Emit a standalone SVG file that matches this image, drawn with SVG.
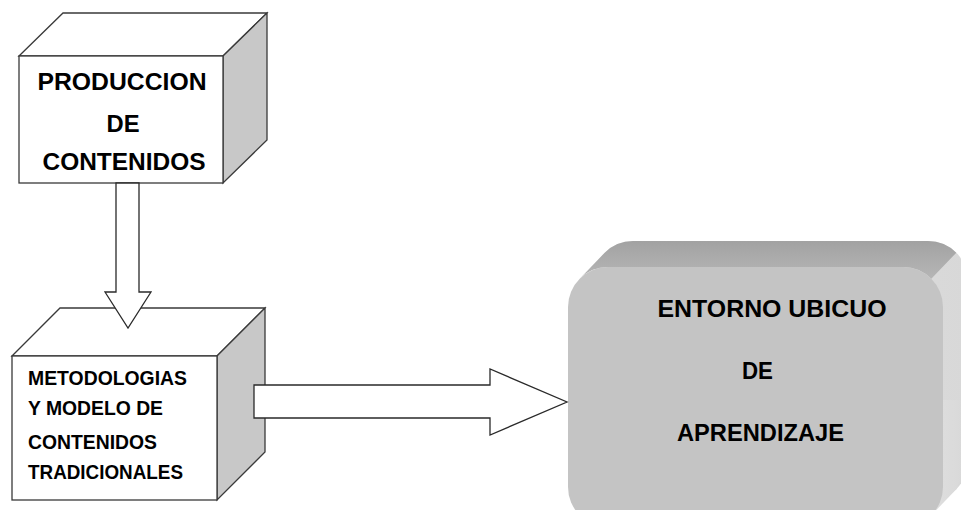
<svg xmlns="http://www.w3.org/2000/svg" width="961" height="510" viewBox="0 0 961 510">
<defs>
<linearGradient id="topBand" x1="0" y1="0" x2="0" y2="1">
<stop offset="0" stop-color="#a2a2a2"/>
<stop offset="1" stop-color="#b6b6b6"/>
</linearGradient>
<linearGradient id="sideFace" x1="0" y1="0" x2="1" y2="0">
<stop offset="0" stop-color="#e4e4e4"/>
<stop offset="1" stop-color="#d8d8d8"/>
</linearGradient>
<style>
.edge{stroke:#3a3a3a;stroke-width:1.3;stroke-linejoin:miter}
.front{fill:#fff}
.top{fill:#fff}
.side{fill:#c8c8c8}
.arrow{fill:#fff;stroke:#2a2a2a;stroke-width:1.3;stroke-linejoin:miter}
.big{font-family:"Liberation Sans",Arial,sans-serif;font-weight:bold;font-size:24.5px;fill:#000}
.small{font-family:"Liberation Sans",Arial,sans-serif;font-weight:bold;font-size:21px;fill:#000}
</style>
</defs>
<rect width="961" height="510" fill="#fff"/>

<g id="node-produccion">
<polygon class="top edge" points="19,56 63,13 267,13 223,56"/>
<polygon class="side edge" points="223,56 267,13 267,140 223,183"/>
<rect class="front edge" x="19" y="56" width="204" height="127"/>
<text class="big" x="122" y="90" text-anchor="middle" textLength="169" lengthAdjust="spacingAndGlyphs">PRODUCCION</text>
<text class="big" x="123" y="132" text-anchor="middle" textLength="33" lengthAdjust="spacingAndGlyphs">DE</text>
<text class="big" x="124" y="170" text-anchor="middle" textLength="163" lengthAdjust="spacingAndGlyphs">CONTENIDOS</text>
</g>

<g id="node-metodologias">
<polygon class="top edge" points="12,356 60,308 265,308 217,356"/>
<polygon class="side edge" points="217,356 265,308 265,452 217,500"/>
<rect class="front edge" x="12" y="356" width="205" height="144"/>
<text class="small" x="28" y="385" textLength="159" lengthAdjust="spacingAndGlyphs">METODOLOGIAS</text>
<text class="small" x="28" y="415" textLength="135" lengthAdjust="spacingAndGlyphs">Y MODELO DE</text>
<text class="small" x="28" y="449" textLength="129" lengthAdjust="spacingAndGlyphs">CONTENIDOS</text>
<text class="small" x="28" y="479" textLength="155" lengthAdjust="spacingAndGlyphs">TRADICIONALES</text>
</g>

<g id="node-entorno">
<rect x="593" y="241" width="375" height="260" rx="40" fill="url(#sideFace)"/>
<polygon points="943,400 968,400 968,461 956.3,489.3 931.3,515.3 903,527" fill="url(#sideFace)"/>
<path d="M579.7,278.7 L604.7,252.7 A40,40 0 0 1 633,241 L928,241 A40,40 0 0 1 956.3,252.7 L931.3,278.7 A40,40 0 0 0 903,267 L608,267 A40,40 0 0 0 579.7,278.7 Z" fill="url(#topBand)"/>
<rect x="568" y="267" width="375" height="260" rx="40" fill="#c4c4c4"/>
<text class="big" x="772" y="317" text-anchor="middle" textLength="229" lengthAdjust="spacingAndGlyphs">ENTORNO UBICUO</text>
<text class="big" x="757.5" y="379" text-anchor="middle" textLength="31" lengthAdjust="spacingAndGlyphs">DE</text>
<text class="big" x="760.5" y="441" text-anchor="middle" textLength="167" lengthAdjust="spacingAndGlyphs">APRENDIZAJE</text>
</g>

<g id="connectors">
<polygon class="arrow" points="116,183 139,183 139,292 151,292 128,328 105,292 116,292"/>
<polygon class="arrow" points="254,385 490,385 490,369 567,402 490,435 490,418 254,418"/>
</g>
</svg>
